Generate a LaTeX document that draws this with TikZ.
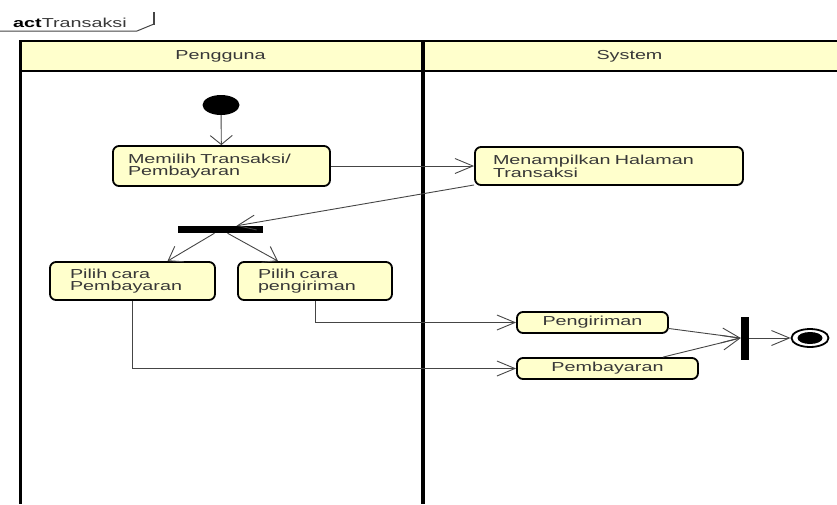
\documentclass[tikz,border=0pt]{standalone}
\usepackage{fontspec}
\setmainfont{Liberation Sans}[FakeStretch=1.52]
\usetikzlibrary{arrows.meta,calc,shapes.geometric}
\definecolor{actfill}{HTML}{FFFFCC}
\definecolor{ink}{HTML}{383838}
\definecolor{wire}{HTML}{454545}

\begin{document}
\begin{tikzpicture}[x=1pt,y=-1pt,
  font=\fontsize{13}{12}\selectfont,
  action/.style={draw=black, line width=1.8pt, fill=actfill, rounded corners=6pt,
                 text=ink, inner ysep=2pt},
  multi/.style={action, align=left, minimum height=38pt},
  single/.style={action, inner sep=0pt, minimum height=21pt},
  bar/.style={fill=black, draw=none, inner sep=0pt},
  flowh/.style={draw=wire, line width=0.9pt, -{Straight Barb[length=18pt,width=15pt,line width=0.9pt]}},
  flowv/.style={draw=wire, line width=0.9pt, -{Straight Barb[length=9pt,width=22pt,line width=0.9pt]}},
  flowd/.style={draw=wire, line width=0.9pt, -{Straight Barb[length=13pt,width=18pt,line width=0.9pt]}},
  lane/.style={draw=black, line width=3pt},
  lanehead/.style={text=ink}
]
\useasboundingbox (0,0) rectangle (837,504);

% frame tab
\draw[draw=wire, line width=1pt] (0,31) -- (137,31) -- (154,24);
\draw[draw=wire, line width=1.6pt] (154,24.5) -- (154,12);
\node[anchor=base west, inner sep=0pt, text=black] (title) at (13,27)
  {\textbf{act}\textcolor{ink}{Transaksi}};

% swimlane header and partitions
\fill[actfill] (19,41) rectangle (837,71);
\draw[line width=1.6pt] (19,41) -- (837,41);
\draw[line width=1.6pt] (19,71) -- (837,71);
\draw[lane] (20.5,40) -- (20.5,504);
\draw[lane, line width=3.8pt] (422.7,40) -- (422.7,504);
\node[lanehead] (userlane) at (220.5,56) {Pengguna};
\node[lanehead] (syslane) at (629.5,56) {System};

% nodes
\node[ellipse, fill=black, inner sep=0pt, minimum width=37pt, minimum height=20pt] (start) at (221,105) {};
\node[multi, text width=187pt, inner xsep=15pt, minimum height=40pt] (pick) at (221.5,166) {Memilih Transaksi/\\Pembayaran};
\node[multi, text width=232pt, inner xsep=18pt] (show) at (609,166) {Menampilkan Halaman\\Transaksi};
\node[bar, minimum width=85pt, minimum height=7pt] (fork) at (220.5,229.5) {};
\node[multi, text width=125pt, inner xsep=20pt] (paychoice) at (132.5,281) {Pilih cara\\Pembayaran};
\node[multi, text width=114pt, inner xsep=20pt] (shipchoice) at (315,281) {Pilih cara\\pengiriman};
\node[single, minimum width=151pt] (ship) at (592.5,322.5) {Pengiriman};
\node[single, minimum width=181pt] (pay) at (607.5,368.5) {Pembayaran};
\node[bar, minimum width=8pt, minimum height=43pt] (join) at (745,338) {};
\node[ellipse, draw=black, line width=1.8pt, fill=white, inner sep=0pt,
      minimum width=37pt, minimum height=18pt] (end) at (810,338) {};
\node[ellipse, fill=black, inner sep=0pt, minimum width=25pt, minimum height=12pt] (endcore) at (end.center) {};

% control flows
\draw[flowv] (start) -- (pick);
\draw[flowh] (pick) -- (show);
\draw[flowh] (show.188.7) -- ($(fork.north)+(16,0)$);
\draw[flowd] ($(fork.south)+(-6,0)$) -- ($(paychoice.north)+(35,0)$);
\draw[flowd] ($(fork.south)+(7,0)$) -- ($(shipchoice.north)+(-37,0)$);
\draw[flowh] (shipchoice.south) |- (ship.west);
\draw[flowh] (paychoice.south) |- (pay.west);
\draw[flowh] ($(ship.east)+(0,6)$) -- (join.west);
\draw[flowh] ($(pay.north east)+(-36,0)$) -- (join.west);
\draw[flowh] (join.east) -- (end.west);
\end{tikzpicture}
\end{document}
